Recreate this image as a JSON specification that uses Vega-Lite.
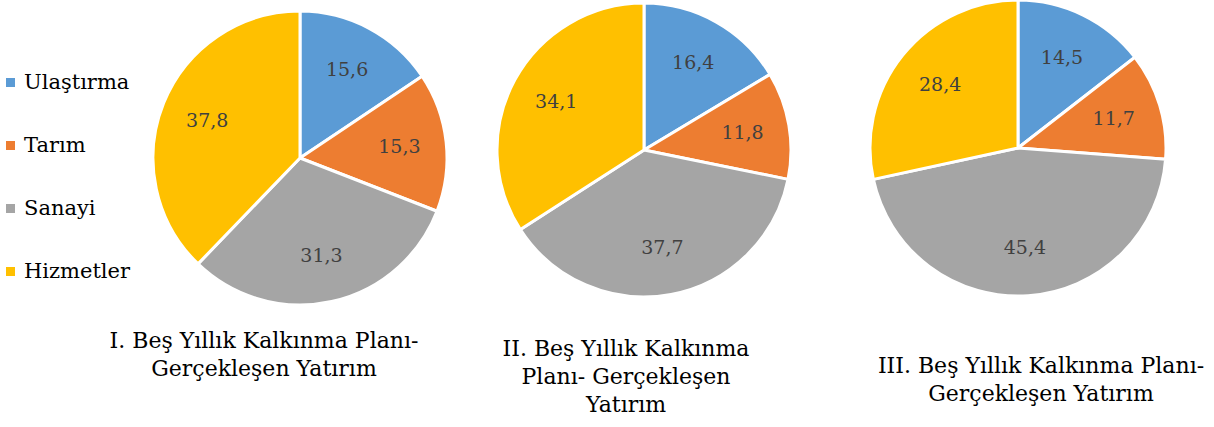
{
  "$schema": "https://vega.github.io/schema/vega-lite/v6.json",
  "padding": {"left": 0, "top": -2, "right": 0, "bottom": 0},
  "background": "#ffffff",
  "bounds": "flush",
  "config": {
    "view": {"stroke": null},
    "locale": {"number": {"decimal": ",", "thousands": ".", "grouping": [3], "currency": ["", ""]}},
    "concat": {"spacing": 0},
    "title": {"font": "DejaVu Serif", "fontSize": 22, "fontWeight": "normal", "color": "#000000", "lineHeight": 28}
  },
  "data": {"values": [
    {"plan": "I", "sector": "Ulaştırma", "sira": 1, "value": 15.6},
    {"plan": "I", "sector": "Tarım", "sira": 2, "value": 15.3},
    {"plan": "I", "sector": "Sanayi", "sira": 3, "value": 31.3},
    {"plan": "I", "sector": "Hizmetler", "sira": 4, "value": 37.8},
    {"plan": "II", "sector": "Ulaştırma", "sira": 1, "value": 16.4},
    {"plan": "II", "sector": "Tarım", "sira": 2, "value": 11.8},
    {"plan": "II", "sector": "Sanayi", "sira": 3, "value": 37.7},
    {"plan": "II", "sector": "Hizmetler", "sira": 4, "value": 34.1},
    {"plan": "III", "sector": "Ulaştırma", "sira": 1, "value": 14.5},
    {"plan": "III", "sector": "Tarım", "sira": 2, "value": 11.7},
    {"plan": "III", "sector": "Sanayi", "sira": 3, "value": 45.4},
    {"plan": "III", "sector": "Hizmetler", "sira": 4, "value": 28.4}
  ]},
  "hconcat": [
    {
      "width": 280, "height": 314,
      "transform": [{"filter": "datum.plan === 'I'"}],
      "title": {"text": ["I. Beş Yıllık Kalkınma Planı-", "Gerçekleşen Yatırım"], "orient": "bottom", "anchor": "middle", "offset": 16, "dx": -36},
      "layer": [
        {
          "mark": {"type": "arc", "outerRadius": 147, "stroke": "#ffffff", "strokeWidth": 3, "strokeJoin": "round"},
          "encoding": {
            "theta": {"field": "value", "type": "quantitative", "stack": true},
            "order": {"field": "sira", "type": "quantitative"},
            "color": {"field": "sector", "type": "nominal",
              "scale": {"domain": ["Ulaştırma", "Tarım", "Sanayi", "Hizmetler"], "range": ["#5B9BD5", "#ED7D31", "#A5A5A5", "#FFC000"]},
              "legend": {"orient": "none", "legendX": -160, "legendY": 71, "title": null, "symbolType": "square", "symbolSize": 81, "symbolStrokeWidth": 0, "labelFont": "DejaVu Serif", "labelFontSize": 21, "labelColor": "#000000", "labelOffset": 3, "rowPadding": 41, "padding": 0, "labelLimit": 300}}
          }
        },
        {
          "mark": {"type": "text", "radius": 100, "font": "DejaVu Serif", "fontSize": 19, "fill": "#404040"},
          "encoding": {
            "theta": {"field": "value", "type": "quantitative", "stack": true},
            "order": {"field": "sira", "type": "quantitative"},
            "detail": {"field": "sector", "type": "nominal"},
            "text": {"field": "value", "type": "quantitative", "format": ".1f"}
          }
        }
      ]
    },
    {
      "width": 408, "height": 298,
      "transform": [{"filter": "datum.plan === 'II'"}],
      "title": {"text": ["II. Beş Yıllık Kalkınma", "Planı- Gerçekleşen", "Yatırım"], "orient": "bottom", "anchor": "middle", "offset": 40, "dx": -18},
      "layer": [
        {
          "mark": {"type": "arc", "outerRadius": 147, "stroke": "#ffffff", "strokeWidth": 3, "strokeJoin": "round"},
          "encoding": {
            "theta": {"field": "value", "type": "quantitative", "stack": true},
            "order": {"field": "sira", "type": "quantitative"},
            "color": {"field": "sector", "type": "nominal",
              "scale": {"domain": ["Ulaştırma", "Tarım", "Sanayi", "Hizmetler"], "range": ["#5B9BD5", "#ED7D31", "#A5A5A5", "#FFC000"]}}
          }
        },
        {
          "mark": {"type": "text", "radius": 100, "font": "DejaVu Serif", "fontSize": 19, "fill": "#404040"},
          "encoding": {
            "theta": {"field": "value", "type": "quantitative", "stack": true},
            "order": {"field": "sira", "type": "quantitative"},
            "detail": {"field": "sector", "type": "nominal"},
            "text": {"field": "value", "type": "quantitative", "format": ".1f"}
          }
        }
      ]
    },
    {
      "width": 340, "height": 294,
      "transform": [{"filter": "datum.plan === 'III'"}],
      "title": {"text": ["III. Beş Yıllık Kalkınma Planı-", "Gerçekleşen Yatırım"], "orient": "bottom", "anchor": "middle", "offset": 58, "dx": 23},
      "layer": [
        {
          "mark": {"type": "arc", "outerRadius": 148, "stroke": "#ffffff", "strokeWidth": 3, "strokeJoin": "round"},
          "encoding": {
            "theta": {"field": "value", "type": "quantitative", "stack": true},
            "order": {"field": "sira", "type": "quantitative"},
            "color": {"field": "sector", "type": "nominal",
              "scale": {"domain": ["Ulaştırma", "Tarım", "Sanayi", "Hizmetler"], "range": ["#5B9BD5", "#ED7D31", "#A5A5A5", "#FFC000"]}}
          }
        },
        {
          "mark": {"type": "text", "radius": 100, "font": "DejaVu Serif", "fontSize": 19, "fill": "#404040"},
          "encoding": {
            "theta": {"field": "value", "type": "quantitative", "stack": true},
            "order": {"field": "sira", "type": "quantitative"},
            "detail": {"field": "sector", "type": "nominal"},
            "text": {"field": "value", "type": "quantitative", "format": ".1f"}
          }
        }
      ]
    }
  ],
  "resolve": {"scale": {"color": "shared"}}
}
